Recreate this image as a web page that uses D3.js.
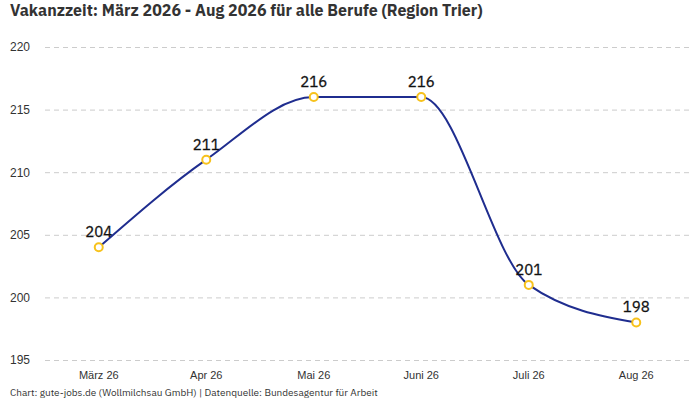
<!DOCTYPE html>
<html>
<head>
<meta charset="utf-8">
<script src="https://cdn.jsdelivr.net/npm/d3@7"></script>
<style>
  body { margin: 0; background: #fff; }
  svg { font-family: "IBM Plex Sans", Roboto, "Noto Sans", sans-serif; }
</style>
</head>
<body>
<div id="chart"></div>
<script>
const months = ["März 26", "Apr 26", "Mai 26", "Juni 26", "Juli 26", "Aug 26"];
const values = [204, 211, 216, 216, 201, 198];
const yTicks = [195, 200, 205, 210, 215, 220];

const width = 700;
const height = 400;
const margin = {top: 47, right: 10, bottom: 40, left: 45};

const svg = d3.select("#chart")
  .append("svg")
  .attr("width", width)
  .attr("height", height);

const x = d3.scaleBand()
  .domain(months)
  .range([margin.left, width - margin.right]);

const y = d3.scaleLinear()
  .domain([195, 220])
  .range([height - margin.bottom, margin.top]);

// title
svg.append("text")
  .attr("x", 10).attr("y", 16)
  .attr("font-size", 16).attr("font-weight", "bold")
  .attr("fill", "#333")
  .text("Vakanzzeit: März 2026 - Aug 2026 für alle Berufe (Region Trier)");

// grid + y labels
const yAxis = d3.axisLeft(y)
  .tickValues(yTicks)
  .tickSize(-(width - margin.left - margin.right))
  .tickPadding(12);

const gy = svg.append("g")
  .attr("transform", `translate(${margin.left},0)`)
  .call(yAxis);
gy.select(".domain").remove();
gy.selectAll(".tick line")
  .attr("stroke", "#ccc")
  .attr("stroke-dasharray", "5,4");
gy.selectAll(".tick text")
  .attr("x", -35)
  .attr("text-anchor", "start")
  .attr("font-size", 12)
  .attr("fill", "#333");

// x labels
const gx = svg.append("g")
  .attr("transform", `translate(0,${height - margin.bottom})`)
  .call(d3.axisBottom(x).tickSize(0).tickPadding(11));
gx.select(".domain").remove();
gx.selectAll(".tick text")
  .attr("font-size", 11)
  .attr("fill", "#333");

const data = months.map((m, i) => ({month: m, value: values[i]}));
const cx = d => x(d.month) + x.bandwidth() / 2;

const line = d3.line()
  .x(cx)
  .y(d => y(d.value))
  .curve(d3.curveMonotoneX);

svg.append("path")
  .datum(data)
  .attr("d", line)
  .attr("fill", "none")
  .attr("stroke", "#1f2d8f")
  .attr("stroke-width", 2);

svg.selectAll("circle.pt")
  .data(data)
  .enter().append("circle")
  .attr("class", "pt")
  .attr("cx", cx)
  .attr("cy", d => y(d.value))
  .attr("r", 4)
  .attr("fill", "#fff")
  .attr("stroke", "#f7c21c")
  .attr("stroke-width", 2);

svg.selectAll("text.lbl")
  .data(data)
  .enter().append("text")
  .attr("class", "lbl")
  .attr("x", cx)
  .attr("y", d => y(d.value) - 10)
  .attr("text-anchor", "middle")
  .attr("font-size", 15)
  .attr("fill", "#111")
  .attr("stroke", "#111")
  .attr("stroke-width", 0.3)
  .text(d => d.value);

// footer
svg.append("text")
  .attr("x", 10).attr("y", 396)
  .attr("font-size", 10)
  .attr("fill", "#333")
  .text("Chart: gute-jobs.de (Wollmilchsau GmbH) | Datenquelle: Bundesagentur für Arbeit");
</script>
</body>
</html>
